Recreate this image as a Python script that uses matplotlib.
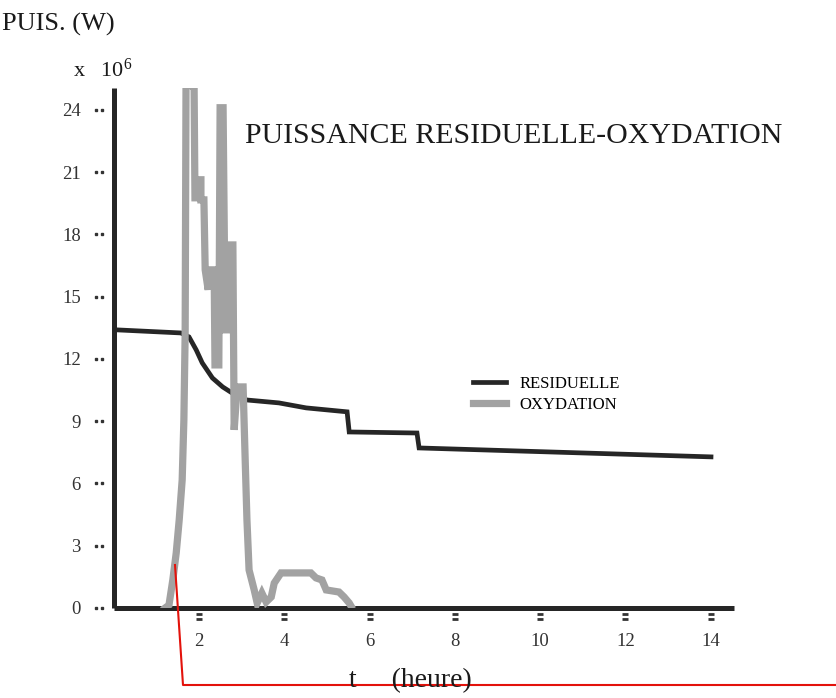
import matplotlib

matplotlib.use("Agg")
import matplotlib.pyplot as plt
from matplotlib.lines import Line2D
from matplotlib.transforms import blended_transform_factory

# Residual power (x 10^6 W) vs time (hours)
RES_T = [0.05, 1.57, 1.76, 1.93, 2.07, 2.31, 2.55, 2.77, 3.12, 3.87, 4.51, 5.47,
         5.52, 7.11, 7.16, 14.01]
RES_P = [13.40, 13.25, 13.06, 12.43, 11.81, 11.08, 10.65, 10.36, 10.02, 9.88,
         9.64, 9.45, 8.48, 8.43, 7.71, 7.28]

# Oxidation power (x 10^6 W) vs time (hours)
OXY_T = [1.20, 1.29, 1.38, 1.46, 1.53, 1.60, 1.64, 1.67, 1.69, 1.83, 1.88, 1.90,
         1.97, 1.97, 2.04, 2.04, 2.11, 2.14, 2.21, 2.23, 2.35, 2.37, 2.46, 2.49,
         2.56, 2.61, 2.68, 2.70, 2.79, 2.82, 2.89, 3.03, 3.08, 3.12, 3.17, 3.29,
         3.36, 3.47, 3.57, 3.69, 3.76, 3.92, 4.62, 4.74, 4.88, 4.98, 5.28, 5.40,
         5.52, 5.56]
OXY_P = [0.00, 0.14, 1.35, 2.65, 4.24, 6.17, 9.06, 13.25, 25.16, 25.16, 25.06,
         19.76, 19.76, 20.63, 20.63, 19.66, 19.66, 16.29, 15.33, 16.29, 16.29,
         11.71, 11.71, 24.10, 24.10, 13.40, 13.40, 17.49, 17.49, 8.58, 10.65,
         10.65, 7.04, 4.24, 1.83, 0.87, 0.24, 0.72, 0.29, 0.53, 1.20, 1.69, 1.69,
         1.45, 1.35, 0.87, 0.77, 0.53, 0.24, 0.10]

Y_TICKS = [0, 3, 6, 9, 12, 15, 18, 21, 24]
X_TICKS = [2, 4, 6, 8, 10, 12, 14]

INK = "#262626"
GREY = "#a2a2a2"
SERIF = ["Liberation Serif", "DejaVu Serif"]

plt.rcParams.update({
    "font.family": SERIF,
    "mathtext.fontset": "stix",
})

fig = plt.figure(figsize=(8.37, 6.98), dpi=100)
ax = fig.add_axes([114 / 837, 1 - 608 / 698, 620 / 837, 520 / 698])

ax.plot(RES_T, RES_P, color=INK, lw=3.4, solid_joinstyle="miter",
        label="RESIDUELLE", zorder=2)
ax.plot(OXY_T, OXY_P, color=GREY, lw=5.2, solid_joinstyle="miter",
        label="OXYDATION", zorder=3)

ax.set_xlim(0, 14.55)
ax.set_ylim(0, 25.05)

for side in ("top", "right"):
    ax.spines[side].set_visible(False)
for side in ("left", "bottom"):
    ax.spines[side].set_linewidth(3.6)
    ax.spines[side].set_color(INK)
    ax.spines[side].set_capstyle("butt")

ax.set_yticks(Y_TICKS, [str(v) for v in Y_TICKS])
ax.set_xticks(X_TICKS, [str(v) for v in X_TICKS])
ax.tick_params(axis="y", length=0, pad=24, labelsize=13.5, colors="#333")
ax.tick_params(axis="x", length=0, pad=18, labelsize=13.5, colors="#333")

# the old plotter's tick marks: ".." left of the y axis, "=" under the x axis
ytr = blended_transform_factory(ax.transAxes, ax.transData)
for xf in (-0.029, -0.019):
    ax.plot([xf] * len(Y_TICKS), Y_TICKS, ls="none", marker="s", ms=1.8,
            color="#333", transform=ytr, clip_on=False)
xtr = blended_transform_factory(ax.transData, ax.transAxes)
for yf in (-0.011, -0.022):
    ax.plot(X_TICKS, [yf] * len(X_TICKS), ls="none", marker="_", ms=5, mew=2,
            color="#333", transform=xtr, clip_on=False)

ax.legend(loc="upper left", bbox_to_anchor=(473 / 837, 1 - 376 / 698),
          bbox_transform=fig.transFigure, frameon=False, fontsize=12,
          handlelength=2.0, handletextpad=0.8, labelspacing=0.3,
          borderpad=0, borderaxespad=0)

fig.text(245 / 837, 1 - 136 / 698, "PUISSANCE RESIDUELLE-OXYDATION",
         fontsize=21.5, color="#1a1a1a", ha="left", va="center")
fig.text(2 / 837, 1 - 24 / 698, "PUIS. (W)", fontsize=19, color="#1a1a1a",
         ha="left", va="center")
fig.text(73 / 837, 1 - 70 / 698, r"x   $\mathregular{10^6}$", fontsize=16,
         color="#1a1a1a", ha="left", va="center")
fig.text(410 / 837, 1 - 681 / 698, "t     (heure)", fontsize=20,
         color="#1a1a1a", ha="center", va="center")

# red pen mark drawn over the scan
fig.add_artist(Line2D([175 / 837, 183 / 837, 1.0],
                      [1 - 565 / 698, 1 - 685 / 698, 1 - 685 / 698],
                      color="#e3120b", lw=1.5))

fig.savefig("out.png", dpi=100)
